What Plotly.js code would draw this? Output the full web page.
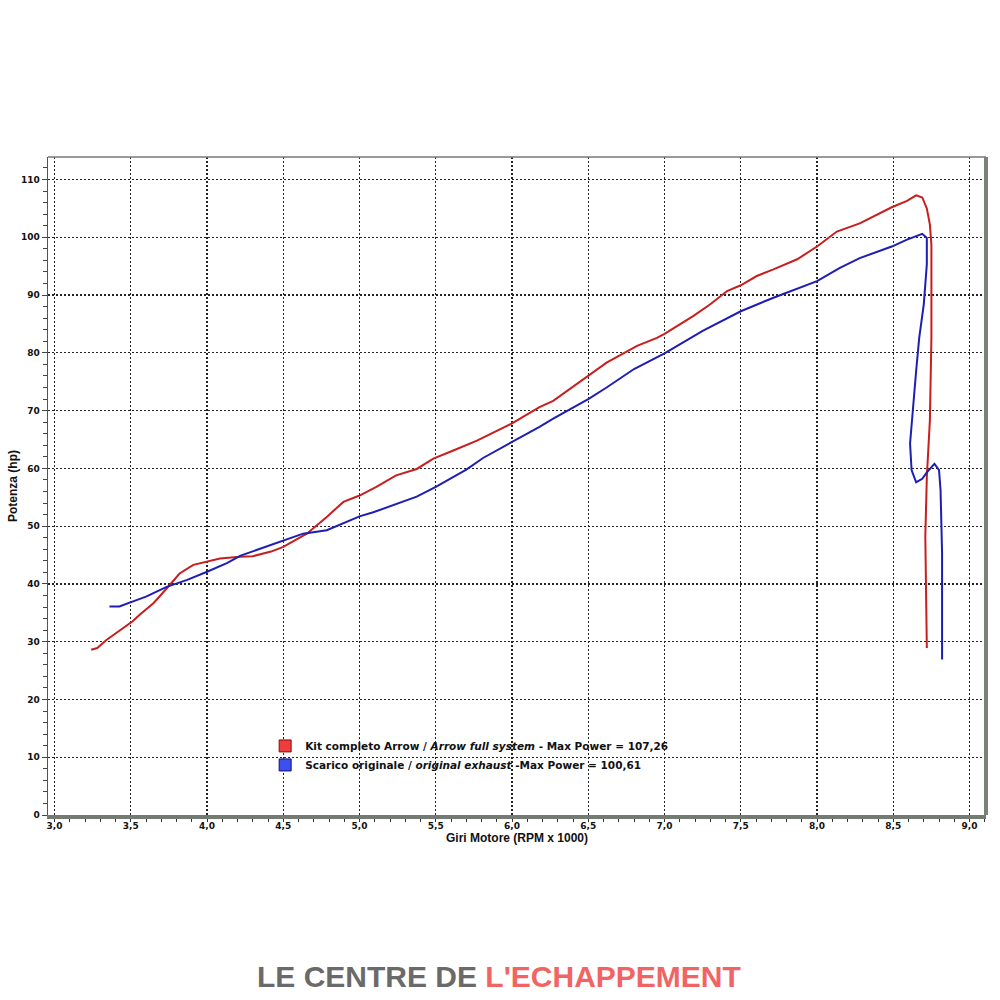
<!DOCTYPE html>
<html>
<head>
<meta charset="utf-8">
<script src="https://cdn.plot.ly/plotly-3.0.1.min.js"></script>
<style>html,body{margin:0;padding:0;background:#fff;}#chart{width:1000px;height:1000px;}</style>
</head>
<body>
<div id="chart"></div>
<script>
// Kit completo Arrow (red)
var rpmKit = [3.24,3.28,3.34,3.45,3.51,3.56,3.65,3.735,3.82,3.91,4.0,4.085,4.216,4.30,4.42,4.5,4.654,4.785,4.894,5.0,5.11,5.24,5.375,5.484,5.615,5.77,6.0,6.18,6.27,6.5,6.62,6.82,6.95,7.0,7.19,7.30,7.41,7.5,7.605,7.71,7.87,8.0,8.13,8.28,8.49,8.59,8.65,8.69,8.72,8.74,8.75,8.75,8.74,8.72,8.71,8.72];
var hpKit  = [28.6,28.9,30.3,32.4,33.5,34.7,36.7,39.2,41.8,43.3,43.8,44.4,44.7,44.8,45.6,46.4,48.7,51.6,54.2,55.3,56.8,58.8,59.9,61.7,63.1,64.8,67.8,70.6,71.7,76.0,78.3,81.2,82.6,83.3,86.4,88.4,90.7,91.7,93.3,94.4,96.2,98.4,101.0,102.4,105.2,106.3,107.26,106.9,105.0,102.2,98.7,82.6,68.3,58.5,48.2,28.9];
// Scarico originale (blue)
var rpmStock = [3.36,3.425,3.506,3.60,3.735,3.87,4.0,4.13,4.22,4.5,4.63,4.785,5.0,5.09,5.22,5.375,5.5,5.70,5.81,6.0,6.18,6.27,6.5,6.62,6.80,7.0,7.25,7.5,7.71,8.0,8.15,8.28,8.49,8.59,8.69,8.72,8.72,8.70,8.67,8.65,8.63,8.61,8.62,8.65,8.69,8.72,8.77,8.80,8.81,8.82,8.82];
var hpStock  = [36.1,36.1,36.9,37.8,39.5,40.7,42.1,43.6,44.9,47.5,48.7,49.3,51.7,52.4,53.6,55.1,56.8,59.8,61.8,64.5,67.2,68.6,72.0,74.0,77.2,79.9,83.8,87.2,89.5,92.4,94.7,96.4,98.4,99.6,100.61,99.9,95.3,88.4,82.6,76.9,71.2,64.3,59.7,57.6,58.2,59.3,60.8,59.7,56.2,45.3,26.9];

var xTickVals = [3.0,3.5,4.0,4.5,5.0,5.5,6.0,6.5,7.0,7.5,8.0,8.5,9.0];
var yTickVals = [0,10,20,30,40,50,60,70,80,90,100,110];
var legendKit = 'Kit completo Arrow / <i>Arrow full system</i> - Max Power = 107,26';
var legendStock = 'Scarico originale / <i>original exhaust</i> -Max Power = 100,61';
var logoGray = 'LE CENTRE DE ';
var logoRed = "L'ECHAPPEMENT";

var red = '#c81e1e', blue = '#1e1eb4';

var traces = [
  {x: rpmKit, y: hpKit, mode: 'lines', line: {color: red, width: 2}, showlegend: false, name: 'Kit completo Arrow', hoverinfo: 'skip'},
  {x: rpmStock, y: hpStock, mode: 'lines', line: {color: blue, width: 2}, showlegend: false, name: 'Scarico originale', hoverinfo: 'skip'},
  {x: [null], y: [null], mode: 'markers', name: legendKit, marker: {symbol: 'square', size: 12, color: '#f03c3c', line: {color: '#801010', width: 1}}},
  {x: [null], y: [null], mode: 'markers', name: legendStock, marker: {symbol: 'square', size: 12, color: '#3c50f0', line: {color: '#101080', width: 1}}}
];

var tickFont = {family: 'DejaVu Sans, Verdana, sans-serif', size: 9, color: '#111', weight: 'bold'};
var titleFont = {family: 'Liberation Sans, Arial, sans-serif', size: 12, color: '#111', weight: 'bold'};

var layout = {
  width: 1000, height: 1000,
  margin: {l: 48, r: 14, t: 157, b: 185},
  paper_bgcolor: '#ffffff', plot_bgcolor: '#ffffff',
  separators: ',.',
  showlegend: true,
  legend: {x: 0.2315, y: 0.127, xanchor: 'left', yanchor: 'top', bgcolor: 'rgba(0,0,0,0)', itemwidth: 30,
           font: {family: 'DejaVu Sans, Verdana, sans-serif', size: 10.5, color: '#111', weight: 'bold'}, tracegroupgap: 0},
  xaxis: {
    range: [2.957, 9.108], tickvals: xTickVals, tickformat: '.1f',
    showgrid: true, gridcolor: '#222', griddash: '2px,2px', gridwidth: 1.3,
    showline: true, linecolor: '#737b73', linewidth: 4,
    ticks: 'outside', ticklen: 3, tickcolor: '#333', tickwidth: 1,
    minor: {dtick: 0.1, ticks: 'outside', ticklen: 3, tickcolor: '#333', showgrid: false},
    tickfont: tickFont, zeroline: false, ticklabelstandoff: -4,
    title: {text: 'Giri Motore (RPM x 1000)', standoff: 2, font: titleFont}
  },
  yaxis: {
    range: [0, 113.9], tickvals: yTickVals,
    showgrid: true, gridcolor: '#222', griddash: '2px,2px', gridwidth: 1.3,
    showline: true, linecolor: '#555', linewidth: 1.5,
    ticks: 'outside', ticklen: 5, tickcolor: '#444', tickwidth: 1,
    minor: {dtick: 2, ticks: 'outside', ticklen: 4, tickcolor: '#444', showgrid: false},
    tickfont: tickFont, zeroline: false,
    title: {text: 'Potenza (hp)', standoff: 0, font: titleFont}
  },
  shapes: [
    {type: 'line', xref: 'paper', yref: 'paper', x0: 0, x1: 1, y0: 1, y1: 1, line: {color: '#777', width: 1.5}},
    {type: 'line', xref: 'paper', yref: 'paper', x0: 1, x1: 1, y0: 0, y1: 1, line: {color: '#7a827a', width: 4}}
  ],
  annotations: [
    {xref: 'paper', yref: 'paper', x: 0.481, y: -0.245, xanchor: 'center', yanchor: 'middle', showarrow: false,
     text: logoGray + '<span style="color:#f26464">' + logoRed + '</span>',
     font: {family: 'Liberation Sans, Arial, sans-serif', size: 30, color: '#6a6a6a', weight: 'bold'}}
  ]
};

Plotly.newPlot('chart', traces, layout, {displayModeBar: false, staticPlot: true});
</script>
</body>
</html>
